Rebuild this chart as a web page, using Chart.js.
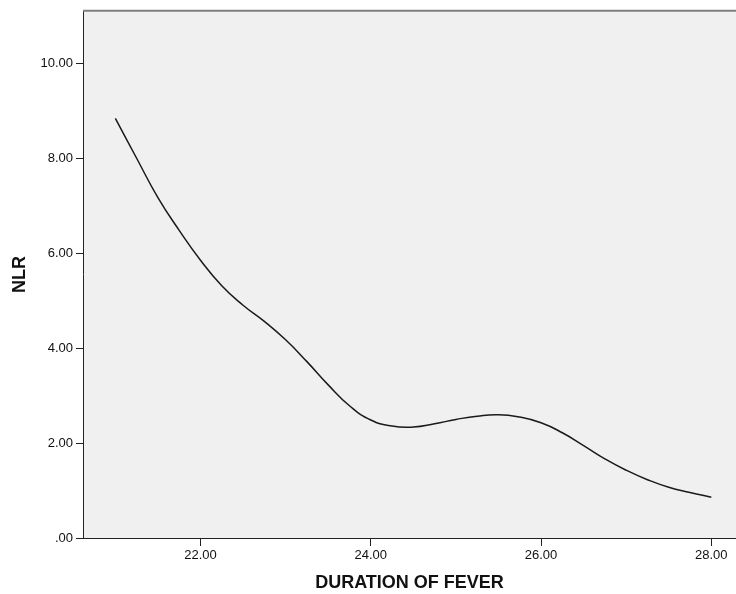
<!DOCTYPE html>
<html>
<head>
<meta charset="utf-8">
<script src="https://cdn.jsdelivr.net/npm/chart.js@4.4.1/dist/chart.umd.min.js"></script>
<style>
  html, body { margin: 0; padding: 0; background: #ffffff; }
  #wrap { width: 736px; height: 594px; position: relative; }
</style>
</head>
<body>
<div id="wrap"><canvas id="c" width="736" height="594"></canvas></div>
<script>
// ---- data ----
const durations = [21.0, 21.25, 21.5, 21.75, 22.0, 22.25, 22.5, 22.75, 23.0, 23.25, 23.5, 23.75, 24.0, 24.25, 24.5, 24.75, 25.0, 25.25, 25.5, 25.75, 26.0, 26.25, 26.5, 26.75, 27.0, 27.25, 27.5, 27.75, 28.0];
const nlrValues = [8.85, 8.01, 7.18, 6.49, 5.86, 5.32, 4.91, 4.57, 4.18, 3.72, 3.23, 2.79, 2.49, 2.36, 2.34, 2.41, 2.50, 2.57, 2.60, 2.55, 2.43, 2.22, 1.95, 1.67, 1.43, 1.23, 1.07, 0.96, 0.86];
const xTickValues = [22, 24, 26, 28];
const yTickValues = [0, 2, 4, 6, 8, 10];
const xTitle = 'DURATION OF FEVER';
const yTitle = 'NLR';

const points = durations.map((d, i) => ({ x: d, y: nlrValues[i] }));

const frame = {
  id: 'frame',
  beforeDraw(chart) {
    const { ctx, chartArea: a } = chart;
    ctx.save();
    ctx.fillStyle = '#f0f0f0';
    ctx.fillRect(a.left, a.top, a.right - a.left, a.bottom - a.top);
    ctx.restore();
  },
  afterDraw(chart) {
    const { ctx, chartArea: a } = chart;
    ctx.save();
    ctx.strokeStyle = '#7f7f7f';
    ctx.lineWidth = 2;
    ctx.beginPath();
    ctx.moveTo(a.left, a.top);
    ctx.lineTo(a.right, a.top);
    ctx.stroke();
    ctx.restore();
  }
};

const fmt = v => (v === 0 ? '.00' : Number(v).toFixed(2));

new Chart(document.getElementById('c'), {
  type: 'scatter',
  data: {
    datasets: [{
      data: points,
      showLine: true,
      borderColor: '#1a1a1a',
      borderWidth: 1.5,
      pointRadius: 0,
      pointHoverRadius: 0,
      tension: 0.5,
      fill: false
    }]
  },
  options: {
    responsive: false,
    animation: false,
    events: [],
    layout: { padding: { top: 10, right: 0, bottom: 0, left: 0 } },
    plugins: { legend: { display: false }, tooltip: { enabled: false } },
    scales: {
      x: {
        type: 'linear',
        min: 20.62,
        max: 28.29,
        afterBuildTicks: s => { s.ticks = xTickValues.map(v => ({ value: v })); },
        afterFit: s => { s.height = 56; },
        grid: { drawOnChartArea: false, drawTicks: true, tickLength: 8, color: '#222', lineWidth: 1 },
        border: { display: true, color: '#222', width: 1 },
        ticks: {
          callback: fmt, color: '#111', padding: 2, maxRotation: 0, autoSkip: false,
          font: { family: 'Liberation Sans, Arial, sans-serif', size: 13 }
        },
        title: {
          display: true, text: xTitle, color: '#111',
          font: { family: 'Liberation Sans, Arial, sans-serif', size: 18, weight: 'bold' },
          padding: { top: 0, bottom: 0 }
        }
      },
      y: {
        type: 'linear',
        min: 0,
        max: 11.12,
        afterBuildTicks: s => { s.ticks = yTickValues.map(v => ({ value: v })); },
        afterFit: s => { s.width = 83; },
        grid: { drawOnChartArea: false, drawTicks: true, tickLength: 7, color: '#222', lineWidth: 1 },
        border: { display: true, color: '#222', width: 1 },
        ticks: {
          callback: fmt, color: '#111', padding: 3, autoSkip: false,
          font: { family: 'Liberation Sans, Arial, sans-serif', size: 13 }
        },
        title: {
          display: true, text: yTitle, color: '#111',
          font: { family: 'Liberation Sans, Arial, sans-serif', size: 18, weight: 'bold' },
          padding: { top: 9, bottom: 0 }
        }
      }
    }
  },
  plugins: [frame]
});
</script>
</body>
</html>
